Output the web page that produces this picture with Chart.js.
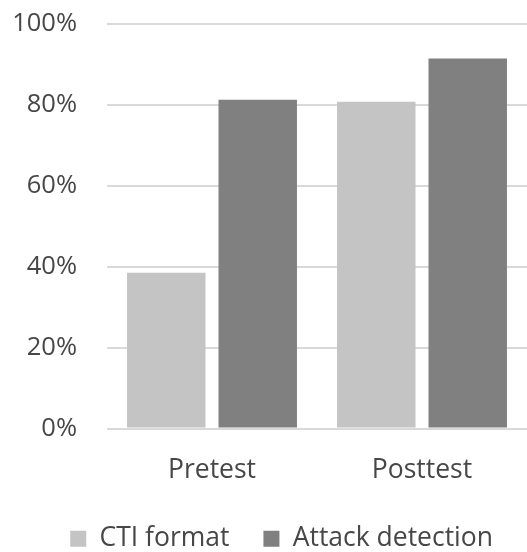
<!DOCTYPE html>
<html lang="en">
<head>
    <meta charset="UTF-8"/>
    <title>CTI format vs Attack detection</title>
    <script src="https://cdn.jsdelivr.net/npm/chart.js"></script>
    <style>
        body { margin: 0; background: #fff; }
        .wrap { width: 527px; height: 552px; }
    </style>
</head>
<body>
    <div class="wrap"><canvas id="bars"></canvas></div>

    <script>
        const categories = ['Pretest', 'Posttest'];
        const ctiFormat = [38.5, 80.8];
        const attackDetection = [81.3, 91.5];
        const seriesNames = ['CTI format', 'Attack detection'];

        const textColor = '#474747';
        const labelFont = { family: "'Open Sans', sans-serif", size: 26.5 };
        const tickFont = { family: "'Open Sans', sans-serif", size: 25.5 };

        new Chart(document.getElementById('bars'), {
            type: 'bar',
            data: {
                labels: categories,
                datasets: [
                    { label: seriesNames[0], data: ctiFormat, backgroundColor: '#c4c4c4' },
                    { label: seriesNames[1], data: attackDetection, backgroundColor: '#808080' }
                ]
            },
            options: {
                responsive: true,
                maintainAspectRatio: false,
                animation: false,
                categoryPercentage: 0.871,
                barPercentage: 0.858,
                layout: { padding: { top: 24, right: 0, bottom: -10, left: 0 } },
                plugins: {
                    tooltip: { enabled: false },
                    legend: {
                        position: 'bottom',
                        align: 'end',
                        labels: {
                            color: textColor,
                            font: labelFont,
                            boxWidth: 16,
                            boxHeight: 16,
                            padding: 34
                        }
                    }
                },
                scales: {
                    x: {
                        grid: { display: false },
                        border: { display: false },
                        ticks: { color: textColor, font: labelFont, padding: 18 },
                        afterFit: s => { s.height = 63; }
                    },
                    y: {
                        min: 0,
                        max: 100,
                        ticks: {
                            stepSize: 20,
                            color: textColor,
                            font: tickFont,
                            padding: 0,
                            callback: v => v + '%'
                        },
                        // invisible tick marks push the labels away from the plot
                        grid: { color: '#d9d9d9', lineWidth: 2, tickLength: 30, tickColor: 'transparent' },
                        border: { display: false },
                        afterFit: s => { s.width = 107; }
                    }
                }
            }
        });
    </script>
</body>
</html>
